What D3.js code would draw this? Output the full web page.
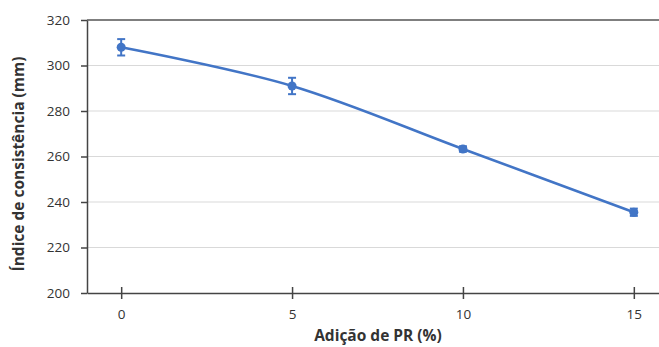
<!DOCTYPE html>
<html><head><meta charset="utf-8">
<script src="https://cdn.jsdelivr.net/npm/d3@7"></script>
<style>body{margin:0;background:#fff}svg{display:block}</style>
</head><body>
<svg id="c" width="659" height="347"></svg>
<script>
const xValues = [0, 5, 10, 15];
const yValues = [308, 291, 263.3, 235.5];
const yErrors = [3.6, 3.6, 1.2, 1.6];
const xTicks = [0, 5, 10, 15];
const yTicks = [200, 220, 240, 260, 280, 300, 320];
const xTitle = "Adição de PR (%)";
const yTitle = "Índice de consistência (mm)";

const svg = d3.select("#c");
const font = "'Open Sans', sans-serif";
const mLeft = 87, mRight = 668, mTop = 20, mBottom = 293;
const x = d3.scaleLinear().domain([-1, 16]).range([mLeft, mRight]);
const y = d3.scaleLinear().domain([200, 320]).range([mBottom, mTop]);
const blue = "#4275c6";

// gridlines
svg.append("g").selectAll("line").data(yTicks.filter(d => d > 200 && d < 320)).join("line")
  .attr("x1", mLeft).attr("x2", 659).attr("y1", d => y(d)).attr("y2", d => y(d))
  .attr("stroke", "#d9d9d9").attr("stroke-width", 1);

// top border
svg.append("line").attr("x1", mLeft).attr("x2", 659).attr("y1", y(320)).attr("y2", y(320))
  .attr("stroke", "#555").attr("stroke-width", 1.5);

// y axis
const ya = svg.append("g").attr("transform", `translate(${mLeft},0)`)
  .call(d3.axisLeft(y).tickValues(yTicks).tickSize(6).tickSizeOuter(0).tickPadding(11));
ya.select(".domain").attr("stroke", "#444").attr("stroke-width", 1.5);
ya.selectAll(".tick line").attr("stroke", "#444").attr("stroke-width", 1.5);
ya.selectAll("text").attr("font-family", font).attr("font-size", 13.5).attr("fill", "#333");

// x axis
const xa = svg.append("g").attr("transform", `translate(0,${mBottom})`)
  .call(d3.axisBottom(x).tickValues(xTicks).tickSizeInner(6).tickSizeOuter(0).tickPadding(10));
xa.select(".domain").attr("stroke", "#444").attr("stroke-width", 1.5);
xa.selectAll(".tick line").attr("stroke", "#444").attr("stroke-width", 1.5).attr("y1", -6).attr("y2", 6);
xa.selectAll("text").attr("font-family", font).attr("font-size", 13.5).attr("fill", "#333");

// line
const pts = xValues.map((v, i) => [x(v), y(yValues[i])]);
svg.append("path").attr("d", d3.line().curve(d3.curveCatmullRom.alpha(0))(pts))
  .attr("fill", "none").attr("stroke", blue).attr("stroke-width", 2.5);

// error bars
const eb = svg.append("g").attr("stroke", blue).attr("stroke-width", 2);
xValues.forEach((v, i) => {
  const cx = x(v), y1 = y(yValues[i] + yErrors[i]), y2 = y(yValues[i] - yErrors[i]);
  eb.append("line").attr("x1", cx).attr("x2", cx).attr("y1", y1).attr("y2", y2);
  eb.append("line").attr("x1", cx - 4).attr("x2", cx + 4).attr("y1", y1).attr("y2", y1);
  eb.append("line").attr("x1", cx - 4).attr("x2", cx + 4).attr("y1", y2).attr("y2", y2);
});

// markers
svg.append("g").selectAll("circle").data(xValues).join("circle")
  .attr("cx", d => x(d)).attr("cy", (d, i) => y(yValues[i])).attr("r", 4.5).attr("fill", blue);

// titles
svg.append("text").attr("x", 378).attr("y", 341).attr("text-anchor", "middle")
  .attr("font-family", font).attr("font-size", 15.5).attr("font-weight", "bold").attr("fill", "#333").text(xTitle);
svg.append("text").attr("transform", `translate(24,164) rotate(-90)`).attr("text-anchor", "middle")
  .attr("font-family", font).attr("font-size", 15.5).attr("font-weight", "bold").attr("fill", "#333").text(yTitle);
</script>
</body></html>
